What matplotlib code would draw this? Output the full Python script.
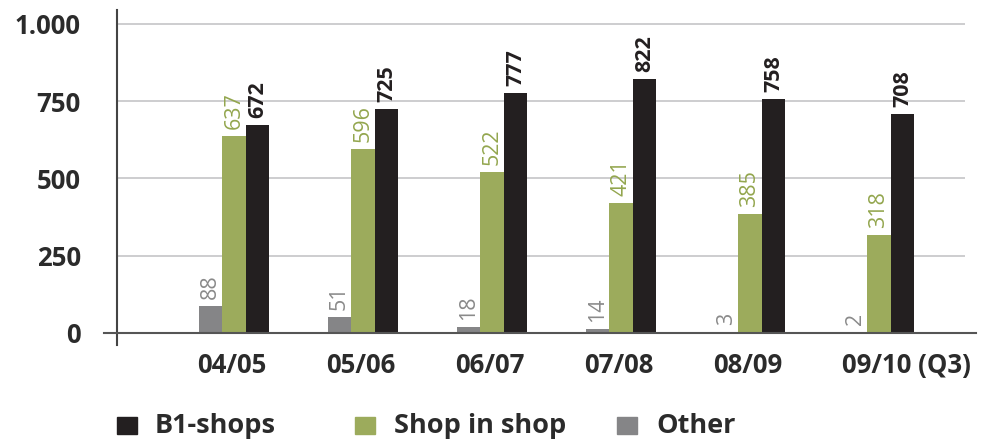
import matplotlib
matplotlib.use("Agg")
import matplotlib.pyplot as plt
from matplotlib.patches import Rectangle
from matplotlib.transforms import ScaledTranslation
import numpy as np

plt.rcParams["font.family"] = ["Open Sans", "DejaVu Sans"]

seasons = ["04/05", "05/06", "06/07", "07/08", "08/09", "09/10 (Q3)"]
other = [88, 51, 18, 14, 3, 2]
shop_in_shop = [637, 596, 522, 421, 385, 318]
b1_shops = [672, 725, 777, 822, 758, 708]
y_ticks = [0, 250, 500, 750, 1000]
y_tick_labels = ["0", "250", "500", "750", "1.000"]
legend_names = ["B1-shops", "Shop in shop", "Other"]

c_black = "#231f20"
c_green = "#9cab5c"
c_gray = "#858587"
c_text = "#2b2b2b"

W, H = 982, 443
fig = plt.figure(figsize=(W / 100, H / 100), dpi=100)
ax = fig.add_axes([117 / W, 98 / H, (965 - 117) / W, (433 - 98) / H])

x = np.arange(len(seasons))
w = 0.182

bars_o = ax.bar(x - w, other, w, color=c_gray, zorder=3)
bars_s = ax.bar(x, shop_in_shop, w, color=c_green, zorder=3)
bars_b = ax.bar(x + w, b1_shops, w, color=c_black, zorder=3)

def label_bars(bars, values, color, weight):
    for b, v in zip(bars, values):
        ax.annotate(str(v), (b.get_x() + b.get_width() / 2, v),
                    xytext=(0, 5), textcoords="offset points",
                    rotation=90, ha="center", va="bottom",
                    fontsize=15.5, color=color, fontweight=weight, zorder=4)

label_bars(bars_o, other, "#8a8a8a", "normal")
label_bars(bars_s, shop_in_shop, "#93a64e", "normal")
label_bars(bars_b, b1_shops, c_black, "bold")

ax.set_xlim(-0.907, 5.667)
ax.set_ylim(-39, 1045)

# grid lines and zero baseline
for t in y_ticks[1:]:
    ax.axhline(t, color="#c9c9cc", lw=1.3, zorder=1)
ax.plot([-1.008, 5.75], [0, 0], color="#555555", lw=1.5,
        clip_on=False, zorder=5)

for s in ["top", "right", "bottom"]:
    ax.spines[s].set_visible(False)
ax.spines["left"].set_color("#444444")
ax.spines["left"].set_linewidth(1.5)

ax.set_yticks(y_ticks)
ax.set_yticklabels(y_tick_labels)
ax.tick_params(axis="y", length=0, pad=26, labelsize=18.5, labelcolor=c_text)
for lbl in ax.get_yticklabels():
    lbl.set_fontweight("bold")

ax.set_xticks(x)
ax.set_xticklabels(seasons)
ax.tick_params(axis="x", length=0, pad=5, labelsize=18.5, labelcolor=c_text)
shift = ScaledTranslation(-37 / 100, 0, fig.dpi_scale_trans)
for lbl in ax.get_xticklabels():
    lbl.set_fontweight("bold")
    lbl.set_ha("left")
    lbl.set_transform(lbl.get_transform() + shift)

# legend row along the bottom edge
legend_colors = [c_black, c_green, c_gray]
square_x = [117, 355, 617]
text_x = [155, 394, 656]
for name, col, sx, tx in zip(legend_names, legend_colors, square_x, text_x):
    fig.patches.append(Rectangle((sx / W, 1 - 434 / H), 20 / W, 17 / H,
                                 transform=fig.transFigure, color=col))
    fig.text(tx / W, 1 - 433 / H, name, ha="left", va="baseline",
             fontsize=19.5, fontweight="bold", color=c_text)

fig.savefig("out.png", dpi=100)
